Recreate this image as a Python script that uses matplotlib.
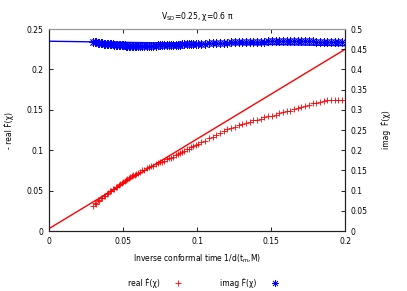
import matplotlib
matplotlib.use("Agg")
import matplotlib.pyplot as plt
from matplotlib.ticker import FormatStrFormatter, MultipleLocator
from matplotlib.lines import Line2D

plt.rcParams['font.family'] = ['DejaVu Sans']
plt.rcParams['font.size'] = 5.5

# inverse conformal time 1/d
inv_d = [0.030, 0.031, 0.032, 0.033, 0.034, 0.035, 0.036, 0.037, 0.038, 0.039,
         0.040, 0.041, 0.042, 0.043, 0.044, 0.045, 0.046, 0.047, 0.048, 0.049,
         0.050, 0.051, 0.052, 0.053, 0.054, 0.055, 0.056, 0.057, 0.058, 0.059,
         0.060,
         0.0615, 0.063, 0.0645, 0.066, 0.0675, 0.069, 0.0705, 0.072, 0.0735, 0.075,
         0.0765, 0.078, 0.0795, 0.081, 0.0825, 0.084, 0.0855, 0.087, 0.0885, 0.090,
         0.0915, 0.093, 0.0945, 0.096, 0.0975, 0.099,
         0.1005, 0.103, 0.1055, 0.108, 0.1105, 0.113, 0.1155, 0.118, 0.1205, 0.123,
         0.1255, 0.128, 0.1305, 0.133, 0.1355, 0.138, 0.1405, 0.143, 0.1455, 0.148,
         0.1505, 0.153, 0.1555, 0.158, 0.1605, 0.163, 0.1655, 0.168, 0.1705, 0.173,
         0.1755, 0.178, 0.1805, 0.183, 0.1855, 0.188, 0.1905, 0.193, 0.1955, 0.198]

# - real F (left axis)
real_f = [0.031, 0.035, 0.034, 0.038, 0.037, 0.041, 0.041, 0.044, 0.044, 0.046,
          0.047, 0.049, 0.049, 0.052, 0.052, 0.054, 0.055, 0.057, 0.058, 0.060,
          0.061, 0.062, 0.063, 0.065, 0.066, 0.067, 0.068, 0.069, 0.070, 0.071,
          0.072,
          0.073, 0.075, 0.076, 0.078, 0.079, 0.080, 0.081, 0.083, 0.084, 0.085,
          0.086, 0.087, 0.089, 0.090, 0.091, 0.092, 0.094, 0.095, 0.097, 0.098,
          0.099, 0.101, 0.102, 0.104, 0.105, 0.107,
          0.108, 0.110, 0.112, 0.115, 0.117, 0.119, 0.121, 0.124, 0.126, 0.128,
          0.129, 0.131, 0.132, 0.134, 0.135, 0.137, 0.138, 0.139, 0.141, 0.142,
          0.143, 0.144, 0.146, 0.147, 0.148, 0.149, 0.151, 0.152, 0.153, 0.155,
          0.156, 0.158, 0.159, 0.160, 0.161, 0.162, 0.162, 0.162, 0.162, 0.162]

# imag F (right axis)
imag_f = [0.469, 0.468, 0.467, 0.466, 0.466, 0.465, 0.465, 0.464, 0.464, 0.463,
          0.463, 0.462, 0.462, 0.462, 0.461, 0.461, 0.461, 0.460, 0.460, 0.460,
          0.460, 0.460, 0.459, 0.459, 0.459, 0.459, 0.459, 0.459, 0.459, 0.459,
          0.459,
          0.459, 0.459, 0.459, 0.459, 0.459, 0.459, 0.459, 0.459, 0.460, 0.460,
          0.460, 0.460, 0.460, 0.460, 0.461, 0.461, 0.461, 0.461, 0.461, 0.462,
          0.462, 0.462, 0.462, 0.463, 0.463, 0.463,
          0.463, 0.464, 0.464, 0.465, 0.465, 0.465, 0.466, 0.466, 0.466, 0.467,
          0.467, 0.467, 0.468, 0.468, 0.468, 0.469, 0.469, 0.469, 0.469, 0.470,
          0.470, 0.470, 0.470, 0.470, 0.470, 0.470, 0.470, 0.470, 0.470, 0.470,
          0.470, 0.470, 0.469, 0.469, 0.469, 0.469, 0.469, 0.469, 0.469, 0.469]

# linear fits
fit_x = [0.0, 0.2]
real_fit = [0.003, 0.225]
imag_fit = [0.470, 0.459]

fig = plt.figure(figsize=(4.07, 2.91), dpi=100)
ax = fig.add_axes([0.1204, 0.206, 0.7275, 0.694])
ax2 = ax.twinx()

ax.plot(fit_x, real_fit, color='#ff0000', lw=1.0, zorder=3)
ax.plot(inv_d, real_f, ls='none', marker='+', ms=5, mew=0.6, color='#ff0000', zorder=2)
ax2.plot(fit_x, imag_fit, color='#0000ff', lw=1.0, zorder=3)
ax2.plot(inv_d, imag_f, ls='none', marker=(8, 2, 0), ms=6, mew=0.6, color='#0000ff', zorder=2)

ax.set_xlim(0, 0.2)
ax.set_ylim(0, 0.25)
ax2.set_ylim(0, 0.5)
ax.xaxis.set_major_locator(MultipleLocator(0.05))
ax.yaxis.set_major_locator(MultipleLocator(0.05))
ax2.yaxis.set_major_locator(MultipleLocator(0.05))
for a in (ax.xaxis, ax.yaxis, ax2.yaxis):
    a.set_major_formatter(FormatStrFormatter('%g'))

ax.tick_params(axis='x', direction='in', top=True, length=3, width=0.6, pad=4)
ax.tick_params(axis='y', direction='in', length=3, width=0.6, pad=4)
ax2.tick_params(axis='y', direction='in', length=3, width=0.6, pad=4)

for a in (ax, ax2):
    for s in ('left', 'right', 'bottom'):
        a.spines[s].set_linewidth(0.8)
        a.spines[s].set_color('#222222')
    a.spines['top'].set_color('#999999')
    a.spines['top'].set_linewidth(0.8)

ax.set_title('V$_{\\mathregular{SD}}$=0.25, χ=0.6 π', fontsize=5.5, pad=7)
ax.set_xlabel('Inverse conformal time 1/d(t$_{\\mathregular{m}}$,M)', labelpad=5)
ax.set_ylabel('- real Ḟ(χ)', labelpad=9)
ax2.set_ylabel('imag  Ḟ(χ)', labelpad=10)

handles = [Line2D([], [], ls='none', marker='+', ms=5, mew=0.6, color='#ff0000'),
           Line2D([], [], ls='none', marker=(8, 2, 0), ms=5, mew=0.5, color='#0000ff')]
fig.legend(handles, ['real Ḟ(χ)', 'imag Ḟ(χ)'], loc='center', bbox_to_anchor=(0.505, 0.028),
           ncol=2, frameon=False, markerfirst=False, columnspacing=4.5, handlelength=2,
           handletextpad=1.4)

fig.savefig('out.png', dpi=100)
